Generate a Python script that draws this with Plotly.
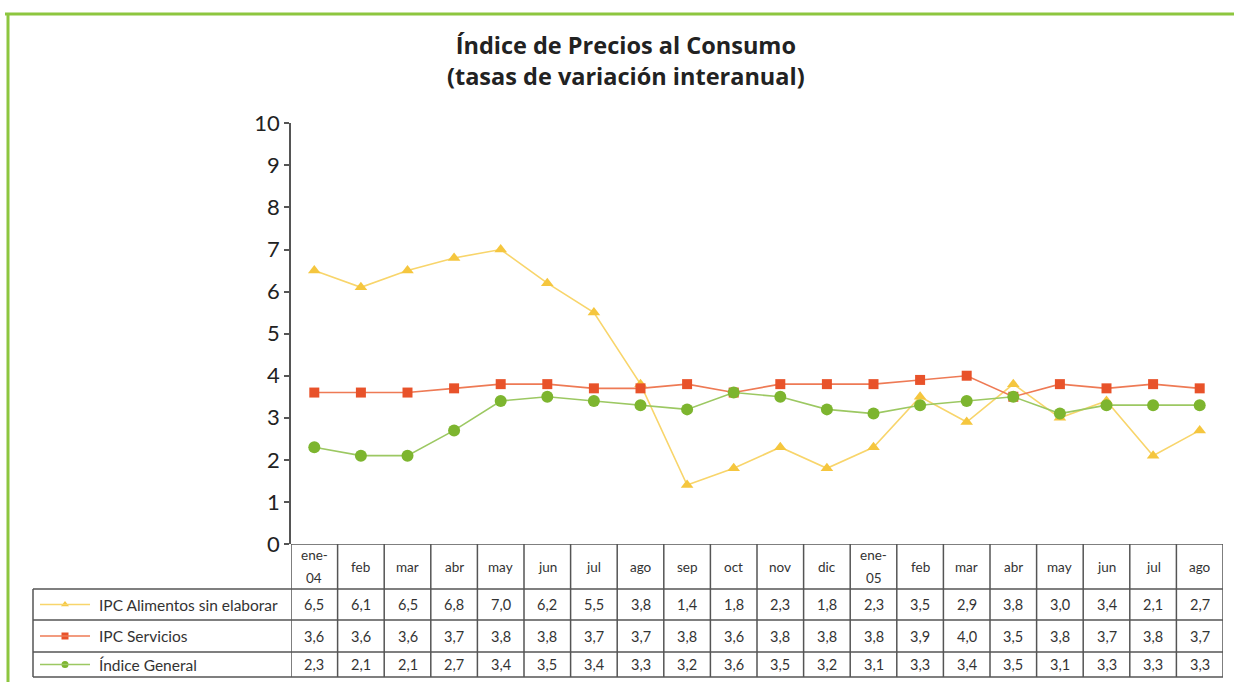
import plotly.graph_objects as go

# ---------------- data ----------------
categories = ["ene-04", "feb", "mar", "abr", "may", "jun", "jul", "ago", "sep", "oct",
              "nov", "dic", "ene-05", "feb", "mar", "abr", "may", "jun", "jul", "ago"]
header_labels = ["ene-<br>04", "feb", "mar", "abr", "may", "jun", "jul", "ago", "sep", "oct",
                 "nov", "dic", "ene-<br>05", "feb", "mar", "abr", "may", "jun", "jul", "ago"]
alimentos = [6.5, 6.1, 6.5, 6.8, 7.0, 6.2, 5.5, 3.8, 1.4, 1.8,
             2.3, 1.8, 2.3, 3.5, 2.9, 3.8, 3.0, 3.4, 2.1, 2.7]
servicios = [3.6, 3.6, 3.6, 3.7, 3.8, 3.8, 3.7, 3.7, 3.8, 3.6,
             3.8, 3.8, 3.8, 3.9, 4.0, 3.5, 3.8, 3.7, 3.8, 3.7]
general = [2.3, 2.1, 2.1, 2.7, 3.4, 3.5, 3.4, 3.3, 3.2, 3.6,
           3.5, 3.2, 3.1, 3.3, 3.4, 3.5, 3.1, 3.3, 3.3, 3.3]
series_names = ["IPC Alimentos sin elaborar", "IPC Servicios", "Índice General"]
title_text = "Índice de Precios al Consumo<br>(tasas de variación interanual)"
y_ticks = [0, 1, 2, 3, 4, 5, 6, 7, 8, 9, 10]

# ---------------- styles ----------------
W, H = 1234, 682
FONT = "Lato"
YEL, YEL_L = "#F5C63E", "#F8D56B"
RED, RED_L = "#E8522A", "#EE7A55"
GRN, GRN_L = "#7DB52F", "#9CC862"
GRID = "#555555"
x_idx = list(range(len(categories)))

styles = [
    dict(color=YEL, line=YEL_L, symbol="triangle-up", size=11),
    dict(color=RED, line=RED_L, symbol="square", size=10),
    dict(color=GRN, line=GRN_L, symbol="circle", size=12),
]
all_series = [alimentos, servicios, general]

fig = go.Figure()
for name, vals, st in zip(series_names, all_series, styles):
    fig.add_trace(go.Scatter(
        x=x_idx, y=vals, name=name, mode="lines+markers",
        line=dict(color=st["line"], width=1.6),
        marker=dict(color=st["color"], symbol=st["symbol"], size=st["size"]),
        xaxis="x", yaxis="y", showlegend=False, cliponaxis=False,
    ))

# pixel helpers for layout
def px_x(p):
    return p / W

def px_y(p):
    return 1 - p / H

x0_px, x1_px = 291, 1223
y0_px, y10_px = 544, 123.3

fig.update_layout(
    width=W, height=H, autosize=False,
    margin=dict(l=0, r=0, t=0, b=0, pad=0, autoexpand=False),
    paper_bgcolor="white", plot_bgcolor="white",
    font=dict(family=FONT, color="#222222"),
    showlegend=False,
    xaxis=dict(domain=[px_x(x0_px), px_x(x1_px)], range=[-0.5, len(categories) - 0.5],
               showticklabels=False, showgrid=False, zeroline=False, showline=False,
               ticks="", fixedrange=True, automargin=False),
    yaxis=dict(domain=[px_y(y0_px), px_y(y10_px)], range=[0, 10], tickvals=y_ticks,
               ticks="outside", ticklen=5, tickcolor=GRID, tickwidth=1.5,
               showline=True, linecolor=GRID, linewidth=1.5,
               showgrid=False, zeroline=False, automargin=False, fixedrange=True,
               tickfont=dict(size=22, family=FONT, color="#222222"), ticklabelstandoff=0),
    yaxis2=dict(domain=[0, px_y(y0_px)], range=[H, y0_px], visible=False, anchor="x2",
                fixedrange=True, automargin=False),
    xaxis2=dict(domain=[0, 1], range=[0, 1], visible=False, anchor="y2",
                fixedrange=True, automargin=False),
)

# title
fig.add_annotation(text=f"<b>{title_text}</b>", x=px_x(626), y=px_y(60), xref="paper", yref="paper",
                   showarrow=False, font=dict(size=23.5, family="Open Sans", color="#222222"),
                   align="center", yanchor="middle")

# green frame
shapes = []
shapes.append(dict(type="line", xref="paper", yref="paper", x0=px_x(5), x1=1,
                   y0=px_y(14), y1=px_y(14), line=dict(color="#8DC63F", width=3)))
shapes.append(dict(type="line", xref="paper", yref="paper", x0=px_x(8), x1=px_x(8),
                   y0=px_y(13), y1=0, line=dict(color="#8DC63F", width=3)))

# table grid
row_lines = [589, 620, 652, 677]
label_left = 33
header_top = y0_px
tab_right_x = len(categories) - 0.5
shapes.append(dict(type="line", xref="x", yref="y2", x0=-0.5, x1=tab_right_x,
                   y0=header_top, y1=header_top, line=dict(color=GRID, width=1.5)))
for ry in row_lines:
    shapes.append(dict(type="line", xref="x2", yref="y2", x0=px_x(label_left), x1=px_x(x1_px),
                       y0=ry, y1=ry, line=dict(color=GRID, width=1.5)))
for i in range(len(categories) + 1):
    shapes.append(dict(type="line", xref="x", yref="y2", x0=i - 0.5, x1=i - 0.5,
                       y0=header_top, y1=row_lines[-1], line=dict(color=GRID, width=1.5)))
shapes.append(dict(type="line", xref="x2", yref="y2", x0=px_x(label_left), x1=px_x(label_left),
                   y0=row_lines[0], y1=row_lines[-1], line=dict(color=GRID, width=1.5)))

# header cells
hdr_mid = (header_top + row_lines[0]) / 2
for i, lab in enumerate(header_labels):
    parts = lab.split("<br>")
    if len(parts) == 1:
        ys = [hdr_mid]
    else:
        ys = [hdr_mid - 12, hdr_mid + 11]
    for p, yy in zip(parts, ys):
        fig.add_annotation(text=p, x=i, y=yy, xref="x", yref="y2",
                           showarrow=False, font=dict(size=13.5, family=FONT, color="#333333"),
                           align="center")

# data cells + row labels
for r, (name, vals, st) in enumerate(zip(series_names, all_series, styles)):
    yc = (row_lines[r] + row_lines[r + 1]) / 2
    for i, v in enumerate(vals):
        fig.add_annotation(text=f"{v:.1f}".replace(".", ","), x=i, y=yc, xref="x", yref="y2",
                           showarrow=False, font=dict(size=14.5, family=FONT, color="#333333"))
    fig.add_annotation(text=name, x=px_x(97), y=yc, xref="x2", yref="y2",
                       xanchor="left", showarrow=False,
                       font=dict(size=15.5, family=FONT, color="#333333"))
    shapes.append(dict(type="line", xref="x2", yref="y2", x0=px_x(40), x1=px_x(90), y0=yc, y1=yc,
                       line=dict(color=st["line"], width=1.5)))
    fig.add_trace(go.Scatter(x=[px_x(65)], y=[yc], mode="markers", xaxis="x2", yaxis="y2",
                             marker=dict(color=st["color"], symbol=st["symbol"], size=7),
                             showlegend=False, hoverinfo="skip", cliponaxis=False))

fig.update_layout(shapes=shapes)
fig.write_html("out.html", config={"displayModeBar": False},
               post_script="document.body.style.margin='0px';")
